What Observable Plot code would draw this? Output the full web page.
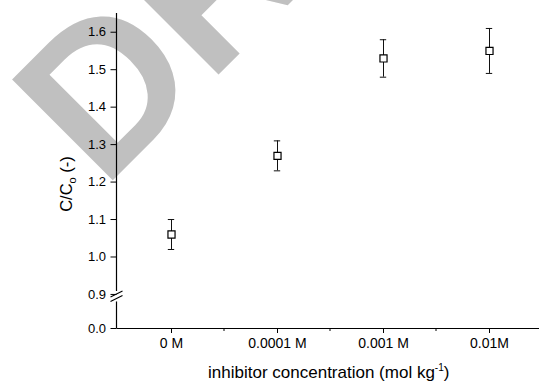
<!DOCTYPE html>
<html><head><meta charset="utf-8">
<script src="https://cdn.jsdelivr.net/npm/d3@7"></script>
<script src="https://cdn.jsdelivr.net/npm/@observablehq/plot@0.6"></script>
<style>html,body{margin:0;padding:0;background:#fff;overflow:hidden;} #chart svg{display:block;max-width:none !important;height:382px !important;}</style>
</head><body><div id="chart"></div>
<script>
const categories = ["0 M", "0.0001 M", "0.001 M", "0.01M"];
const values = [1.06, 1.27, 1.53, 1.55];
const errLow = [1.02, 1.23, 1.48, 1.49];
const errHigh = [1.10, 1.31, 1.58, 1.61];
const yTicks = [0.0, 0.9, 1.0, 1.1, 1.2, 1.3, 1.4, 1.5, 1.6];
const yBreakAt = 0.9;
const yTop = 1.65;
const xLabelMain = "inhibitor concentration (mol kg";
const xLabelSup = "-1";
const xLabelEnd = ")";
const yLabelMain = "C/C";
const yLabelSub = "o";
const yLabelEnd = " (-)";
const watermark = "DRAFT";

// broken axis: the segment 0..0.9 is compressed into a short band below 0.9
const lowSpan = 0.0909;
const brk = v => v >= yBreakAt ? v : yBreakAt - (yBreakAt - v) / yBreakAt * lowSpan;

const data = categories.map((c, i) => ({cat: c, v: brk(values[i]), lo: brk(errLow[i]), hi: brk(errHigh[i])}));

const W = 545, H = 382;
const mL = 116.5, mR = 2, mT = 13, mB = 54;
const capInset = (W - mL - mR) / categories.length / 2 - 3.5;
const fmt = d3.format(".1f");

const plot = Plot.plot({
  width: W, height: H,
  marginLeft: mL, marginRight: mR, marginTop: mT, marginBottom: mB,
  style: {fontFamily: "'Liberation Sans', Arial, sans-serif", fontSize: "13px", color: "black", background: "white"},
  x: {type: "band", domain: categories, padding: 0},
  y: {domain: [brk(0), brk(yTop)]},
  marks: [
    Plot.ruleX(data, {x: "cat", y1: "lo", y2: "hi", stroke: "#111", strokeWidth: 1}),
    Plot.tickY(data, {x: "cat", y: "lo", insetLeft: capInset, insetRight: capInset, stroke: "#111"}),
    Plot.tickY(data, {x: "cat", y: "hi", insetLeft: capInset, insetRight: capInset, stroke: "#111"}),
    Plot.dot(data, {x: "cat", y: "v", symbol: "square", r: 4, fill: "white", stroke: "black", strokeWidth: 1.2}),
    Plot.ruleY([brk(0)], {stroke: "black", strokeWidth: 1.2}),
    Plot.axisX({tickSize: 5, tickPadding: 5, fontSize: 14, label: null}),
    Plot.axisY({ticks: yTicks.map(brk), tickFormat: (t, i) => fmt(yTicks[i]), tickSize: 6, tickPadding: 5, fontSize: 13, label: null})
  ]
});

document.getElementById("chart").appendChild(plot);

const svg = d3.select(plot);
const ys = plot.scale("y"), xs = plot.scale("x");
const x0 = mL;
const yb = ys.apply(brk(yBreakAt));
const y0 = ys.apply(brk(0)), yT = ys.apply(brk(yTop));

// watermark behind everything
svg.insert("text", ":first-child")
  .attr("transform", "translate(103,190) rotate(-45)")
  .attr("text-anchor", "start")
  .attr("font-family", "'Liberation Sans', Arial, sans-serif")
  .attr("font-weight", "bold")
  .attr("font-size", 207)
  .attr("fill", "#c0c0c0")
  .text(watermark);
svg.insert("rect", ":first-child").attr("width", W).attr("height", H).attr("fill", "white");

const g = svg.append("g").attr("stroke", "black").attr("stroke-width", 1.2);
// y axis line with break
g.append("line").attr("x1", x0).attr("x2", x0).attr("y1", y0).attr("y2", yb + 4.5 + 3);
g.append("line").attr("x1", x0).attr("x2", x0).attr("y1", yb - 3).attr("y2", yT);
[0, 4.5].forEach(off => {
  g.append("line").attr("x1", x0 - 6).attr("y1", yb + off + 3).attr("x2", x0 + 6).attr("y2", yb + off - 3);
});
// minor x ticks at band boundaries
categories.slice(1).forEach(c => {
  const xp = xs.apply(c);
  g.append("line").attr("x1", xp).attr("x2", xp).attr("y1", y0).attr("y2", y0 + 3).attr("stroke-width", 1);
});

// x label
const xl = svg.append("text")
  .attr("x", (mL + W - mR) / 2 - 1).attr("y", 378)
  .attr("text-anchor", "middle")
  .attr("font-family", "'Liberation Sans', Arial, sans-serif")
  .attr("font-size", 17).attr("fill", "black");
xl.append("tspan").text(xLabelMain);
xl.append("tspan").attr("font-size", 10).attr("dy", -7).text(xLabelSup);
xl.append("tspan").attr("dy", 7).text(xLabelEnd);

// y label
const yl = svg.append("text")
  .attr("transform", "translate(72.3,184) rotate(-90)")
  .attr("text-anchor", "middle")
  .attr("font-family", "'Liberation Sans', Arial, sans-serif")
  .attr("font-size", 16.5).attr("fill", "black");
yl.append("tspan").text(yLabelMain);
yl.append("tspan").attr("font-size", 11).attr("dy", 4).text(yLabelSub);
yl.append("tspan").attr("dy", -4).text(yLabelEnd);
</script>
</body></html>
